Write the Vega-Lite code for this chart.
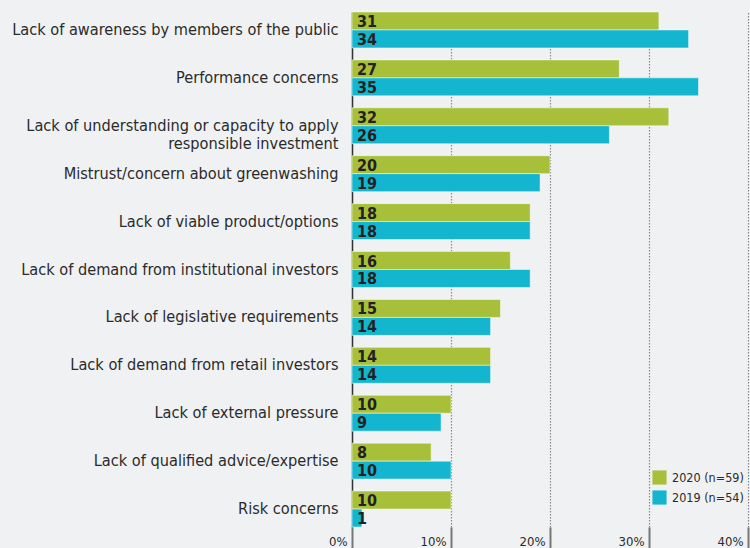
{
  "$schema": "https://vega.github.io/schema/vega-lite/v6.json",
  "width": 396,
  "height": 515,
  "autosize": "none",
  "padding": {"left": 352, "top": 12, "right": 2, "bottom": 21},
  "background": "#f0f1f3",
  "config": {
    "view": {"stroke": null},
    "font": "DejaVu Sans Condensed, Roboto Condensed, Roboto, sans-serif"
  },
  "data": {
    "values": [
      {"barrier": "Lack of awareness by members of the public", "year": "2020 (n=59)", "pct": 31},
      {"barrier": "Lack of awareness by members of the public", "year": "2019 (n=54)", "pct": 34},
      {"barrier": "Performance concerns", "year": "2020 (n=59)", "pct": 27},
      {"barrier": "Performance concerns", "year": "2019 (n=54)", "pct": 35},
      {"barrier": "Lack of understanding or capacity to apply|responsible investment", "year": "2020 (n=59)", "pct": 32},
      {"barrier": "Lack of understanding or capacity to apply|responsible investment", "year": "2019 (n=54)", "pct": 26},
      {"barrier": "Mistrust/concern about greenwashing", "year": "2020 (n=59)", "pct": 20},
      {"barrier": "Mistrust/concern about greenwashing", "year": "2019 (n=54)", "pct": 19},
      {"barrier": "Lack of viable product/options", "year": "2020 (n=59)", "pct": 18},
      {"barrier": "Lack of viable product/options", "year": "2019 (n=54)", "pct": 18},
      {"barrier": "Lack of demand from institutional investors", "year": "2020 (n=59)", "pct": 16},
      {"barrier": "Lack of demand from institutional investors", "year": "2019 (n=54)", "pct": 18},
      {"barrier": "Lack of legislative requirements", "year": "2020 (n=59)", "pct": 15},
      {"barrier": "Lack of legislative requirements", "year": "2019 (n=54)", "pct": 14},
      {"barrier": "Lack of demand from retail investors", "year": "2020 (n=59)", "pct": 14},
      {"barrier": "Lack of demand from retail investors", "year": "2019 (n=54)", "pct": 14},
      {"barrier": "Lack of external pressure", "year": "2020 (n=59)", "pct": 10},
      {"barrier": "Lack of external pressure", "year": "2019 (n=54)", "pct": 9},
      {"barrier": "Lack of qualified advice/expertise", "year": "2020 (n=59)", "pct": 8},
      {"barrier": "Lack of qualified advice/expertise", "year": "2019 (n=54)", "pct": 10},
      {"barrier": "Risk concerns", "year": "2020 (n=59)", "pct": 10},
      {"barrier": "Risk concerns", "year": "2019 (n=54)", "pct": 1}
    ]
  },
  "encoding": {
    "y": {
      "field": "barrier",
      "type": "nominal",
      "sort": null,
      "scale": {"paddingInner": 0.25, "paddingOuter": 0},
      "axis": {
        "title": null,
        "labelExpr": "split(datum.label, '|')",
        "labelFont": "DejaVu Sans Condensed, Roboto Condensed, Roboto, sans-serif",
        "labelFontSize": 16.2,
        "labelColor": "#2b2b2b",
        "labelPadding": 14,
        "labelLimit": 400,
        "labelLineHeight": 18,
        "ticks": false,
        "domain": true,
        "domainColor": "#333333",
        "domainWidth": 1.5,
        "grid": false
      }
    },
    "yOffset": {
      "field": "year",
      "type": "nominal",
      "sort": ["2020 (n=59)", "2019 (n=54)"],
      "scale": {"paddingInner": 0, "paddingOuter": 0}
    }
  },
  "layer": [
    {
      "mark": {"type": "bar", "stroke": "#ffffff", "strokeWidth": 0.7, "strokeOpacity": 0.7},
      "encoding": {
        "x": {
          "field": "pct",
          "type": "quantitative",
          "scale": {"domain": [0, 40], "nice": false},
          "axis": {
            "title": null,
            "values": [0, 10, 20, 30, 40],
            "labelExpr": "datum.value + '%'",
            "labelFont": "DejaVu Sans Condensed, Roboto Condensed, Roboto, sans-serif",
            "labelFontSize": 13,
            "labelColor": "#2b2b2b",
            "labelAlign": "right",
            "labelOffset": -5,
            "labelBaseline": "alphabetic",
            "labelPadding": -3,
            "tickSize": 21,
            "tickWidth": 2,
            "tickColor": "#777777",
            "domain": false,
            "grid": true,
            "gridColor": "#8a8a8a",
            "gridDash": [1.5, 1.5],
            "gridWidth": 1.2
          }
        },
        "color": {
          "field": "year",
          "type": "nominal",
          "scale": {"domain": ["2020 (n=59)", "2019 (n=54)"], "range": ["#a8bf3a", "#13b5cf"]},
          "legend": {
            "title": null,
            "orient": "none",
            "legendX": 300,
            "legendY": 458,
            "symbolType": "square",
            "symbolSize": 200,
            "symbolStrokeWidth": 0,
            "labelFont": "DejaVu Sans Condensed, Roboto Condensed, Roboto, sans-serif",
            "labelFontSize": 12.5,
            "labelColor": "#2b2b2b",
            "rowPadding": 5,
            "labelOffset": 5
          }
        }
      }
    },
    {
      "mark": {"type": "text", "align": "left", "baseline": "middle", "dx": 5, "dy": 1, "fontWeight": "bold", "fontSize": 16, "color": "#222222", "font": "DejaVu Sans Condensed, Roboto Condensed, Roboto, sans-serif"},
      "encoding": {
        "x": {"datum": 0, "type": "quantitative"},
        "text": {"field": "pct", "type": "quantitative"}
      }
    }
  ]
}
